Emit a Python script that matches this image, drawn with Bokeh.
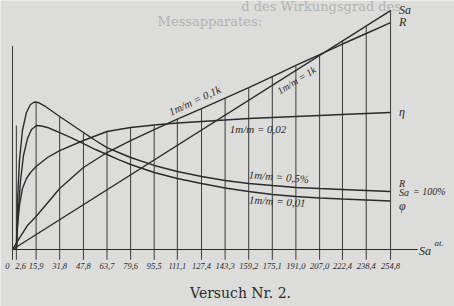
import numpy as np
from bokeh.plotting import figure
from bokeh.models import Range1d
from bokeh.core.properties import value
from bokeh.embed import file_html
from bokeh.resources import INLINE

# ---------------- data ----------------
tick_values = [0, 2.6, 15.9, 31.8, 47.8, 63.7, 79.6, 95.5, 111.1, 127.4,
               143.3, 159.2, 175.1, 191.0, 207.0, 222.4, 238.4, 254.8]
tick_labels = ["0", "2,6", "15,9", "31,8", "47,8", "63,7", "79,6", "95,5", "111,1",
               "127,4", "143,3", "159,2", "175,1", "191,0", "207,0", "222,4",
               "238,4", "254,8"]

# Sa (1 m/m = 1 k)
sa_x = [0, 254.8]
sa_y = [0, 254.8]

# R (1 m/m = 0,1 k)
r_x = [0, 5.4, 10.1, 15.9, 31.8, 47.8, 63.7, 79.6, 95.5, 111.1, 127.4, 143.3,
       159.2, 175.1, 191.0, 207.0, 222.4, 238.4, 254.8]
r_y = [0, 13.9, 25.6, 35.2, 65.0, 87.4, 103.4, 116.2, 127.9, 139.1, 150.3, 161.5,
       172.7, 184.4, 196.2, 207.9, 219.1, 230.3, 242.0]

# eta (1 m/m = 0,02)
eta_x = [2.6, 3.4, 4.7, 6.7, 9.4, 12.1, 15.9, 23.6, 31.8, 47.8, 63.7, 79.6, 95.5,
         111.1, 127.4, 143.3, 159.2, 175.1, 191.0, 207.0, 222.4, 238.4, 254.8]
eta_y = [0, 25.6, 46.9, 65.0, 75.7, 82.1, 88.5, 98.1, 105.5, 116.2, 125.8, 130.1,
         132.7, 134.9, 136.5, 138.1, 139.7, 140.7, 141.8, 142.9, 143.9, 145.0, 146.1]

# R/Sa (1 m/m = 0,5 %)
rsa_x = [2.6, 3.4, 4.7, 6.7, 9.4, 12.1, 14.8, 17.5, 22.2, 27.0, 31.8, 39.8, 47.8,
         55.9, 63.7, 71.5, 79.6, 95.5, 111.1, 127.4, 143.3, 159.2, 175.1, 191.0,
         207.0, 222.4, 238.4, 254.8]
rsa_y = [0, 52.2, 94.9, 126.9, 146.1, 154.6, 157.3, 156.7, 152.5, 147.1, 141.8,
         133.3, 124.7, 116.2, 108.7, 103.4, 98.1, 89.6, 83.2, 77.8, 73.6, 70.4,
         68.2, 66.1, 65.0, 64.0, 62.9, 61.8]

# phi (1 m/m = 0,01)
phi_x = [2.6, 3.7, 5.4, 7.4, 10.1, 12.8, 16.2, 19.5, 23.6, 27.6, 31.8, 39.8, 47.8,
         55.9, 63.7, 71.5, 79.6, 95.5, 111.1, 127.4, 143.3, 159.2, 175.1, 191.0,
         207.0, 222.4, 238.4, 254.8]
phi_y = [0, 36.2, 73.6, 100.2, 118.3, 127.9, 132.2, 131.7, 130.1, 127.4, 124.7,
         118.9, 113.0, 106.6, 101.3, 95.9, 90.6, 82.1, 75.7, 70.4, 65.6, 61.8,
         58.6, 56.5, 54.9, 53.8, 52.8, 51.7]

# ---------------- figure ----------------
BG = "#dcdcda"
INK = "#2b2b2b"
HAND = value("Liberation Serif")

p = figure(width=454, height=306, output_backend="svg", toolbar_location=None,
           x_range=Range1d(-8.09, 297.9), y_range=Range1d(-60.8, 265.5),
           x_axis_location=None, y_axis_location=None, min_border=0)
p.grid.visible = False
p.outline_line_color = None
p.background_fill_color = BG
p.border_fill_color = BG

# faint show-through text of the page
p.text(x=[208.0], y=[259.5], text=["d des Wirkungsgrad des"], text_font=value("DejaVu Serif"),
       text_font_size="13px", text_color="#b3b3b1", text_align="center", text_baseline="middle")
p.text(x=[133.0], y=[243.5], text=["Messapparates:"], text_font=value("DejaVu Serif"),
       text_font_size="13px", text_color="#b3b3b1", text_align="center", text_baseline="middle")

series = [(sa_x, sa_y), (r_x, r_y), (eta_x, eta_y), (rsa_x, rsa_y), (phi_x, phi_y)]

# ordinates: each drawn up to the highest curve at that Sa
tops = []
for t in tick_values:
    vals = [np.interp(t, sx, sy, left=0.0) for sx, sy in series]
    tops.append(max(vals))
tops[0] = 217.0               # y axis
tops[1] = max(phi_y)          # ordinate at 2,6
p.segment(x0=tick_values, y0=[-11.0] * len(tick_values), x1=tick_values, y1=tops,
          line_color="#3a3a3a", line_width=1.0)

# x axis
p.segment(x0=[0], y0=[0], x1=[273.0], y1=[0], line_color=INK, line_width=1.2)

# curves
for sx, sy in series:
    p.line(sx, sy, line_color=INK, line_width=1.4)

# tick labels
lab_y = -17.5
TS = "8.5px"
p.text(x=[tick_values[0]], y=[lab_y], text=[tick_labels[0]], text_font=HAND,
       text_font_style="italic", text_font_size=TS, text_color=INK,
       text_align="right", text_baseline="middle", x_offset=-3)
p.text(x=[tick_values[1]], y=[lab_y], text=[tick_labels[1]], text_font=HAND,
       text_font_style="italic", text_font_size=TS, text_color=INK,
       text_align="left", text_baseline="middle", x_offset=-1)
p.text(x=tick_values[2:], y=[lab_y] * (len(tick_values) - 2), text=tick_labels[2:],
       text_font=HAND, text_font_style="italic", text_font_size=TS, text_color=INK,
       text_align="center", text_baseline="middle")

def lab(x, y, s, size="9px", angle=0.0, align="left", style="italic", font=HAND):
    p.text(x=[x], y=[y], text=[s], text_font=font, text_font_style=style,
           text_font_size=size, text_color=INK, text_align=align,
           text_baseline="middle", angle=angle)

# end-of-curve labels
lab(260.5, 255.5, "Sa", "12px")
lab(260.5, 243.0, "R", "12px")
lab(260.5, 146.5, "η", "12px")
lab(260.5, 70.0, "R", "10px")
lab(260.5, 60.5, "Sa", "10px")
lab(270.0, 62.0, "= 100%", "10px")
lab(260.5, 46.5, "φ", "12px")

# x axis name
lab(274.0, -1.5, "Sa", "12px")
lab(284.5, 7.0, "at.", "9px")

# scale notes along the curves
lab(122.7, 159.0, "1m/m = 0,1k", "11px", angle=0.44, align="center")
lab(191.4, 180.5, "1m/m = 1k", "10px", angle=0.56, align="center")
lab(165.5, 128.0, "1m/m = 0,02", "11px", align="center")
lab(179.5, 77.5, "1m/m = 0,5%", "11px", angle=-0.08, align="center")
lab(178.5, 51.5, "1m/m = 0,01", "11px", angle=-0.06, align="center")

# caption
lab(153.7, -46.0, "Versuch Nr. 2.", "14px", align="center", style="normal",
    font=value("DejaVu Serif"))

open("out.html", "w").write(file_html(p, INLINE))
